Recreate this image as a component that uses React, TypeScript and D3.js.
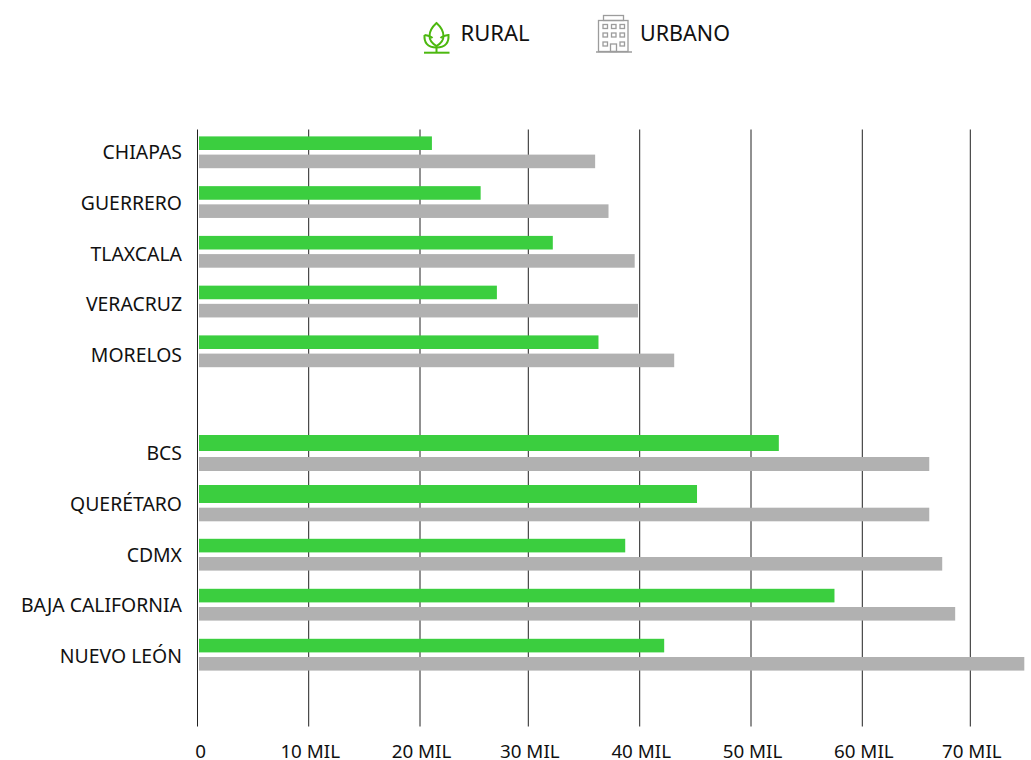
import React from "react";
import * as d3 from "d3";

const lowCategories = ["CHIAPAS", "GUERRERO", "TLAXCALA", "VERACRUZ", "MORELOS"];
const lowRural = [21.1, 25.6, 32.2, 27.1, 36.3];
const lowUrban = [36.0, 37.2, 39.55, 39.85, 43.1];

const highCategories = ["BCS", "QUERÉTARO", "CDMX", "BAJA CALIFORNIA", "NUEVO LEÓN"];
const highRural = [52.5, 45.15, 38.7, 57.5, 42.2];
const highUrban = [66.2, 66.2, 67.4, 68.6, 75.0];

const tickValues = [0, 10, 20, 30, 40, 50, 60, 70];
const tickLabels = ["0", "10 MIL", "20 MIL", "30 MIL", "40 MIL", "50 MIL", "60 MIL", "70 MIL"];

const FONT = "'Noto Sans', sans-serif";
const GREEN = "#3bce3f";
const GREY = "#b1b1b1";
const INK = "#111";

// The source axis is hand-drawn, so its gridlines are slightly uneven.
const x = d3.scaleLinear().domain(tickValues).range([197.5, 308.7, 420, 528.3, 639.7, 751, 862.3, 970.3]);
const barStart = x(0) + 1.5;

const lowBars = d3.scalePoint().domain(lowCategories).range([152.3, 351.3]);
const highBars = d3.scalePoint().domain(highCategories).range([454.7, 654.7]);
const lowLabels = d3.scalePoint().domain(lowCategories).range([152, 355]);
const highLabels = d3.scalePoint().domain(highCategories).range([453, 656]);

const BAR_H = 13.6;
const GAP = 4.6;
// Rows whose bars were drawn with a different thickness in the source: [rural top, rural h, urban top, urban h] relative to the row centre.
const rowOverride: Record<string, number[]> = {
  BCS: [-19.7, 16, 2.3, 14],
  "QUERÉTARO": [-19.7, 18, 3, 13.6],
};

function Row({ name, rural, urban, cy, ly }: { name: string; rural: number; urban: number; cy: number; ly: number }) {
  const o = rowOverride[name] ?? [-GAP / 2 - BAR_H, BAR_H, GAP / 2, BAR_H];
  return (
    <g>
      <rect x={barStart} y={cy + o[0]} width={x(rural) - barStart} height={o[1]} fill={GREEN} />
      <rect x={barStart} y={cy + o[2]} width={x(urban) - barStart} height={o[3]} fill={GREY} />
      <text x={182} y={ly + 7} textAnchor="end" fontFamily={FONT} fontSize={19.4} fill={INK}>
        {name}
      </text>
    </g>
  );
}

function LeafIcon() {
  const c = "#4cb80f";
  return (
    <g fill="none" stroke={c} strokeWidth={2}>
      <path d="M436.5 23 C431 28 429.5 32 429.5 36 C429.5 41 433 44 436.5 46 C440 44 443.5 41 443.5 36 C443.5 32 442 28 436.5 23 Z" />
      <path d="M424.5 35 C424 42 427 47.5 436.5 47.5 C446 47.5 449 42 448.5 35 C444.5 35.5 442 36.5 440.5 38 M424.5 35 C428 35.5 431 36.5 432.5 38" />
      <path d="M436.5 46 V52" />
      <path d="M424 52.7 H449.5" />
    </g>
  );
}

function BuildingIcon() {
  const c = "#9c9c9c";
  const cols = [603, 611.5, 620];
  const rows = [24.5, 33, 42];
  return (
    <g fill="none" stroke={c} strokeWidth={1.3}>
      <rect x={603.5} y={15.5} width={20} height={5} />
      <rect x={598.5} y={20.5} width={29.5} height={31} />
      <path d="M596 52 H632" strokeWidth={1.6} />
      {rows.map((ry) =>
        cols.map((cx) =>
          ry === 42 && cx === 611.5 ? null : <rect key={`${ry}-${cx}`} x={cx} y={ry} width={4.5} height={4} />
        )
      )}
      <rect x={610.5} y={44} width={6} height={7.5} />
    </g>
  );
}

export default function App() {
  return (
    <svg width={1031} height={760} style={{ position: "absolute", left: 0, top: 0, background: "#fff" }}>
      <LeafIcon />
      <text x={460.5} y={40.5} fontFamily={FONT} fontSize={22} fill={INK}>RURAL</text>
      <BuildingIcon />
      <text x={640} y={40.5} fontFamily={FONT} fontSize={21.5} fill={INK}>URBANO</text>

      {tickValues.map((t, i) => (
        <g key={t}>
          <line x1={x(t)} x2={x(t)} y1={129.5} y2={726.5} stroke="#222" strokeWidth={1} />
          <text x={i === 0 ? x(t) + 3 : x(t) + 1.5} y={757.5} textAnchor="middle" fontFamily={FONT} fontSize={18.8} fill={INK}>
            {tickLabels[i]}
          </text>
        </g>
      ))}

      {lowCategories.map((c, i) => (
        <Row key={c} name={c} rural={lowRural[i]} urban={lowUrban[i]} cy={lowBars(c)!} ly={lowLabels(c)!} />
      ))}
      {highCategories.map((c, i) => (
        <Row key={c} name={c} rural={highRural[i]} urban={highUrban[i]} cy={highBars(c)!} ly={highLabels(c)!} />
      ))}
    </svg>
  );
}
